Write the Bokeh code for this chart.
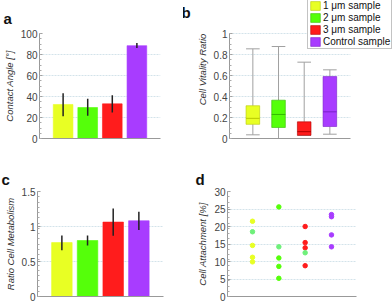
import numpy as np
from bokeh.plotting import figure
from bokeh.layouts import column, row
from bokeh.models import Label, Legend, LegendItem, FixedTicker, ColumnDataSource, Title
from bokeh.embed import file_html
from bokeh.resources import INLINE

# ---------------- data ----------------
samples = ["1 μm sample", "2 μm sample", "3 μm sample", "Control sample"]
xpos = [1, 2, 3, 4]
colors = ["#e8ff24", "#55ff0a", "#ff1c1c", "#a83cff"]
dark = ["#b8c800", "#33bb00", "#b00000", "#7a20c8"]

# a: contact angle
angle_mean = [32.4, 29.5, 33.0, 88.4]
angle_lo = [21.3, 21.6, 24.8, 86.3]
angle_hi = [43.2, 37.8, 41.3, 91.0]

# b: cell vitality ratio (box plot)
vit_lo = [0.035, 0.0, 0.03, 0.041]
vit_q1 = [0.135, 0.105, 0.03, 0.114]
vit_med = [0.192, 0.229, 0.065, 0.254]
vit_q3 = [0.312, 0.365, 0.159, 0.59]
vit_hi = [0.854, 0.876, 0.727, 0.654]

# c: ratio cell metabolism
met_mean = [0.77, 0.80, 1.063, 1.082]
met_lo = [0.66, 0.73, 0.869, 0.95]
met_hi = [0.87, 0.87, 1.258, 1.21]

# d: cell attachment
att_x = [1, 1, 1, 1, 1, 2, 2, 2, 2, 2, 3, 3, 3, 3, 3, 4, 4, 4, 4]
att_y = [21.5, 18.5, 14.6, 11.2, 9.9, 25.6, 14.2, 11.0, 8.6, 5.2,
         20.0, 15.4, 13.9, 12.5, 8.8, 23.4, 22.8, 17.6, 14.2]
att_c = ["#e8ff24", "#6ef07a", "#e8ff24", "#e8ff24", "#e8ff24",
         "#55ff0a", "#6ef07a", "#55ff0a", "#55ff0a", "#55ff0a",
         "#ff1c1c", "#ff1c1c", "#ff1c1c", "#6ef07a", "#ff1c1c",
         "#a83cff", "#a83cff", "#a83cff", "#a83cff"]

FONT = "Liberation Sans"
GRID = "#d3e3ea"


def letter_title(p, letter, offset, standoff):
    t = Title(text=letter, align="left", offset=offset, text_font=FONT,
              text_font_style="bold", text_font_size="15px", text_color="#111111",
              standoff=standoff)
    p.add_layout(t, "above")


def make_fig(w, h, bl, br, bt, bb, xr, yr, ylabel, ticks, labels, ybounds=None, xbounds=None, grid=True):
    p = figure(width=w, height=h, x_range=xr, y_range=yr,
               output_backend="svg", toolbar_location=None,
               min_border_left=bl, min_border_right=br,
               min_border_top=bt, min_border_bottom=bb)
    p.frame_align = False
    p.outline_line_color = None
    p.background_fill_color = "white"
    p.xgrid.grid_line_color = None
    if grid:
        p.ygrid.grid_line_color = GRID
        p.ygrid.grid_line_dash = "2 1"
        p.ygrid.ticker = FixedTicker(ticks=ticks)
    else:
        p.ygrid.grid_line_color = None
    xa = p.xaxis[0]
    xa.ticker = FixedTicker(ticks=[])
    xa.axis_line_color = "#999999"
    xa.major_tick_line_color = None
    xa.minor_tick_line_color = None
    xa.major_label_standoff = 0
    xa.major_tick_out = 0
    if xbounds is not None:
        xa.bounds = xbounds
    ya = p.yaxis[0]
    lo, hi = ybounds if ybounds is not None else yr
    ya.ticker = FixedTicker(ticks=ticks, minor_ticks=list(np.linspace(lo, hi, 21)))
    ya.major_label_overrides = {t: l for t, l in zip(ticks, labels)}
    if ybounds is not None:
        ya.bounds = ybounds
    ya.axis_line_color = "#999999"
    ya.major_tick_line_color = "#999999"
    ya.minor_tick_line_color = "#aaaaaa"
    ya.major_tick_in = 3
    ya.major_tick_out = 0
    ya.minor_tick_in = 2
    ya.minor_tick_out = 0
    ya.major_label_standoff = 2
    ya.major_label_text_font = FONT
    ya.major_label_text_font_size = "10px"
    ya.major_label_text_color = "#444444"
    ya.axis_label = ylabel
    ya.axis_label_text_font = FONT
    ya.axis_label_text_font_style = "italic"
    ya.axis_label_text_font_size = "9.5px"
    ya.axis_label_text_color = "#333333"
    ya.axis_label_standoff = 3
    return p


def bars(p, mean, lo, hi):
    src = ColumnDataSource(dict(x=xpos, top=mean, lo=lo, hi=hi, c=colors))
    p.vbar(x="x", top="top", bottom=0, width=0.8, fill_color="c",
           line_color="c", line_alpha=0.6, source=src)
    p.segment(x0="x", y0="lo", x1="x", y1="hi", line_color="#222222",
              line_width=1.5, source=src)


# ---- a ----
fa = make_fig(183, 150, 37, 23, 33, 12, (0.04, 4.96), (0, 100), "Contact Angle [°]",
              [0, 20, 40, 60, 80, 100], ["0", "20", "40", "60", "80", "100"])
letter_title(fa, "a", -36, 13)
bars(fa, angle_mean, angle_lo, angle_hi)

# ---- b ----  (frame reaches the top/right so the legend fits inside it)
b_ticks = [0, 0.2, 0.4, 0.6, 0.8, 1.0]
B_END = 4.8
fb = make_fig(209, 150, 46, 0, 0, 12, (0.09, 6.44), (0, 1.3143), "Cell Vitality Ratio",
              b_ticks, ["0", "0.2", "0.4", "0.6", "0.8", "1"],
              ybounds=(0, 1), xbounds=(0.09, B_END), grid=False)
xs = np.array(xpos, dtype=float)
gt = np.array(b_ticks[1:])
fb.segment(x0=np.full_like(gt, 0.09), y0=gt, x1=np.full_like(gt, B_END), y1=gt,
           line_color=GRID, line_dash="2 1", line_width=1)
bw = 0.53
fb.segment(x0=xs, y0=vit_q3, x1=xs, y1=vit_hi, line_color="#a0a0a0", line_width=1)
fb.segment(x0=xs, y0=vit_lo, x1=xs, y1=vit_q1, line_color="#a0a0a0", line_width=1)
fb.segment(x0=xs - bw / 2, y0=vit_hi, x1=xs + bw / 2, y1=vit_hi, line_color="#a0a0a0", line_width=1)
fb.segment(x0=xs - bw / 2, y0=vit_lo, x1=xs + bw / 2, y1=vit_lo, line_color="#a0a0a0", line_width=1)
box_renderers = []
for i in range(4):
    r = fb.vbar(x=[xpos[i]], top=[vit_q3[i]], bottom=[vit_q1[i]], width=bw,
                fill_color=colors[i], line_color=dark[i], line_alpha=0.6)
    box_renderers.append(r)
fb.segment(x0=xs - bw / 2, y0=vit_med, x1=xs + bw / 2, y1=vit_med,
           line_color=dark, line_width=1)
legend = Legend(items=[LegendItem(label=s, renderers=[r]) for s, r in zip(samples, box_renderers)],
                location=(78, 89))
legend.label_text_font = FONT
legend.label_text_font_size = "10px"
legend.label_text_color = "#111111"
legend.glyph_width = 12
legend.glyph_height = 11
legend.label_height = 11
legend.label_standoff = 2
legend.spacing = 1
legend.padding = 1
legend.margin = 0
legend.border_line_color = "#888888"
legend.background_fill_alpha = 1
fb.add_layout(legend)
fb.add_layout(Label(x=-3, y=135, x_units="screen", y_units="screen", text="b",
                    text_font=FONT, text_font_style="bold", text_font_size="15px",
                    text_baseline="top", text_color="#111111"), "left")

# ---- c ----
fc = make_fig(193, 152, 37, 30, 41, 6, (0.05, 4.96), (0, 1.5), "Ratio Cell Metabolism",
              [0, 0.5, 1.0, 1.5], ["0", "0.5", "1", "1.5"])
letter_title(fc, "c", -36, 8)
bars(fc, met_mean, met_lo, met_hi)

# ---- d ----
fd = make_fig(199, 152, 34, 36, 41, 6, (0.05, 4.95), (0, 30), "Cell Attachment [%]",
              [0, 5, 10, 15, 20, 25, 30], ["0", "5", "10", "15", "20", "25", "30"])
letter_title(fd, "d", -32, 8)
fd.scatter(x=att_x, y=att_y, size=4.5, fill_color=att_c, line_color=att_c)

layout = column(row(fa, fb), row(fc, fd))
open("out.html", "w").write(file_html(layout, INLINE))
